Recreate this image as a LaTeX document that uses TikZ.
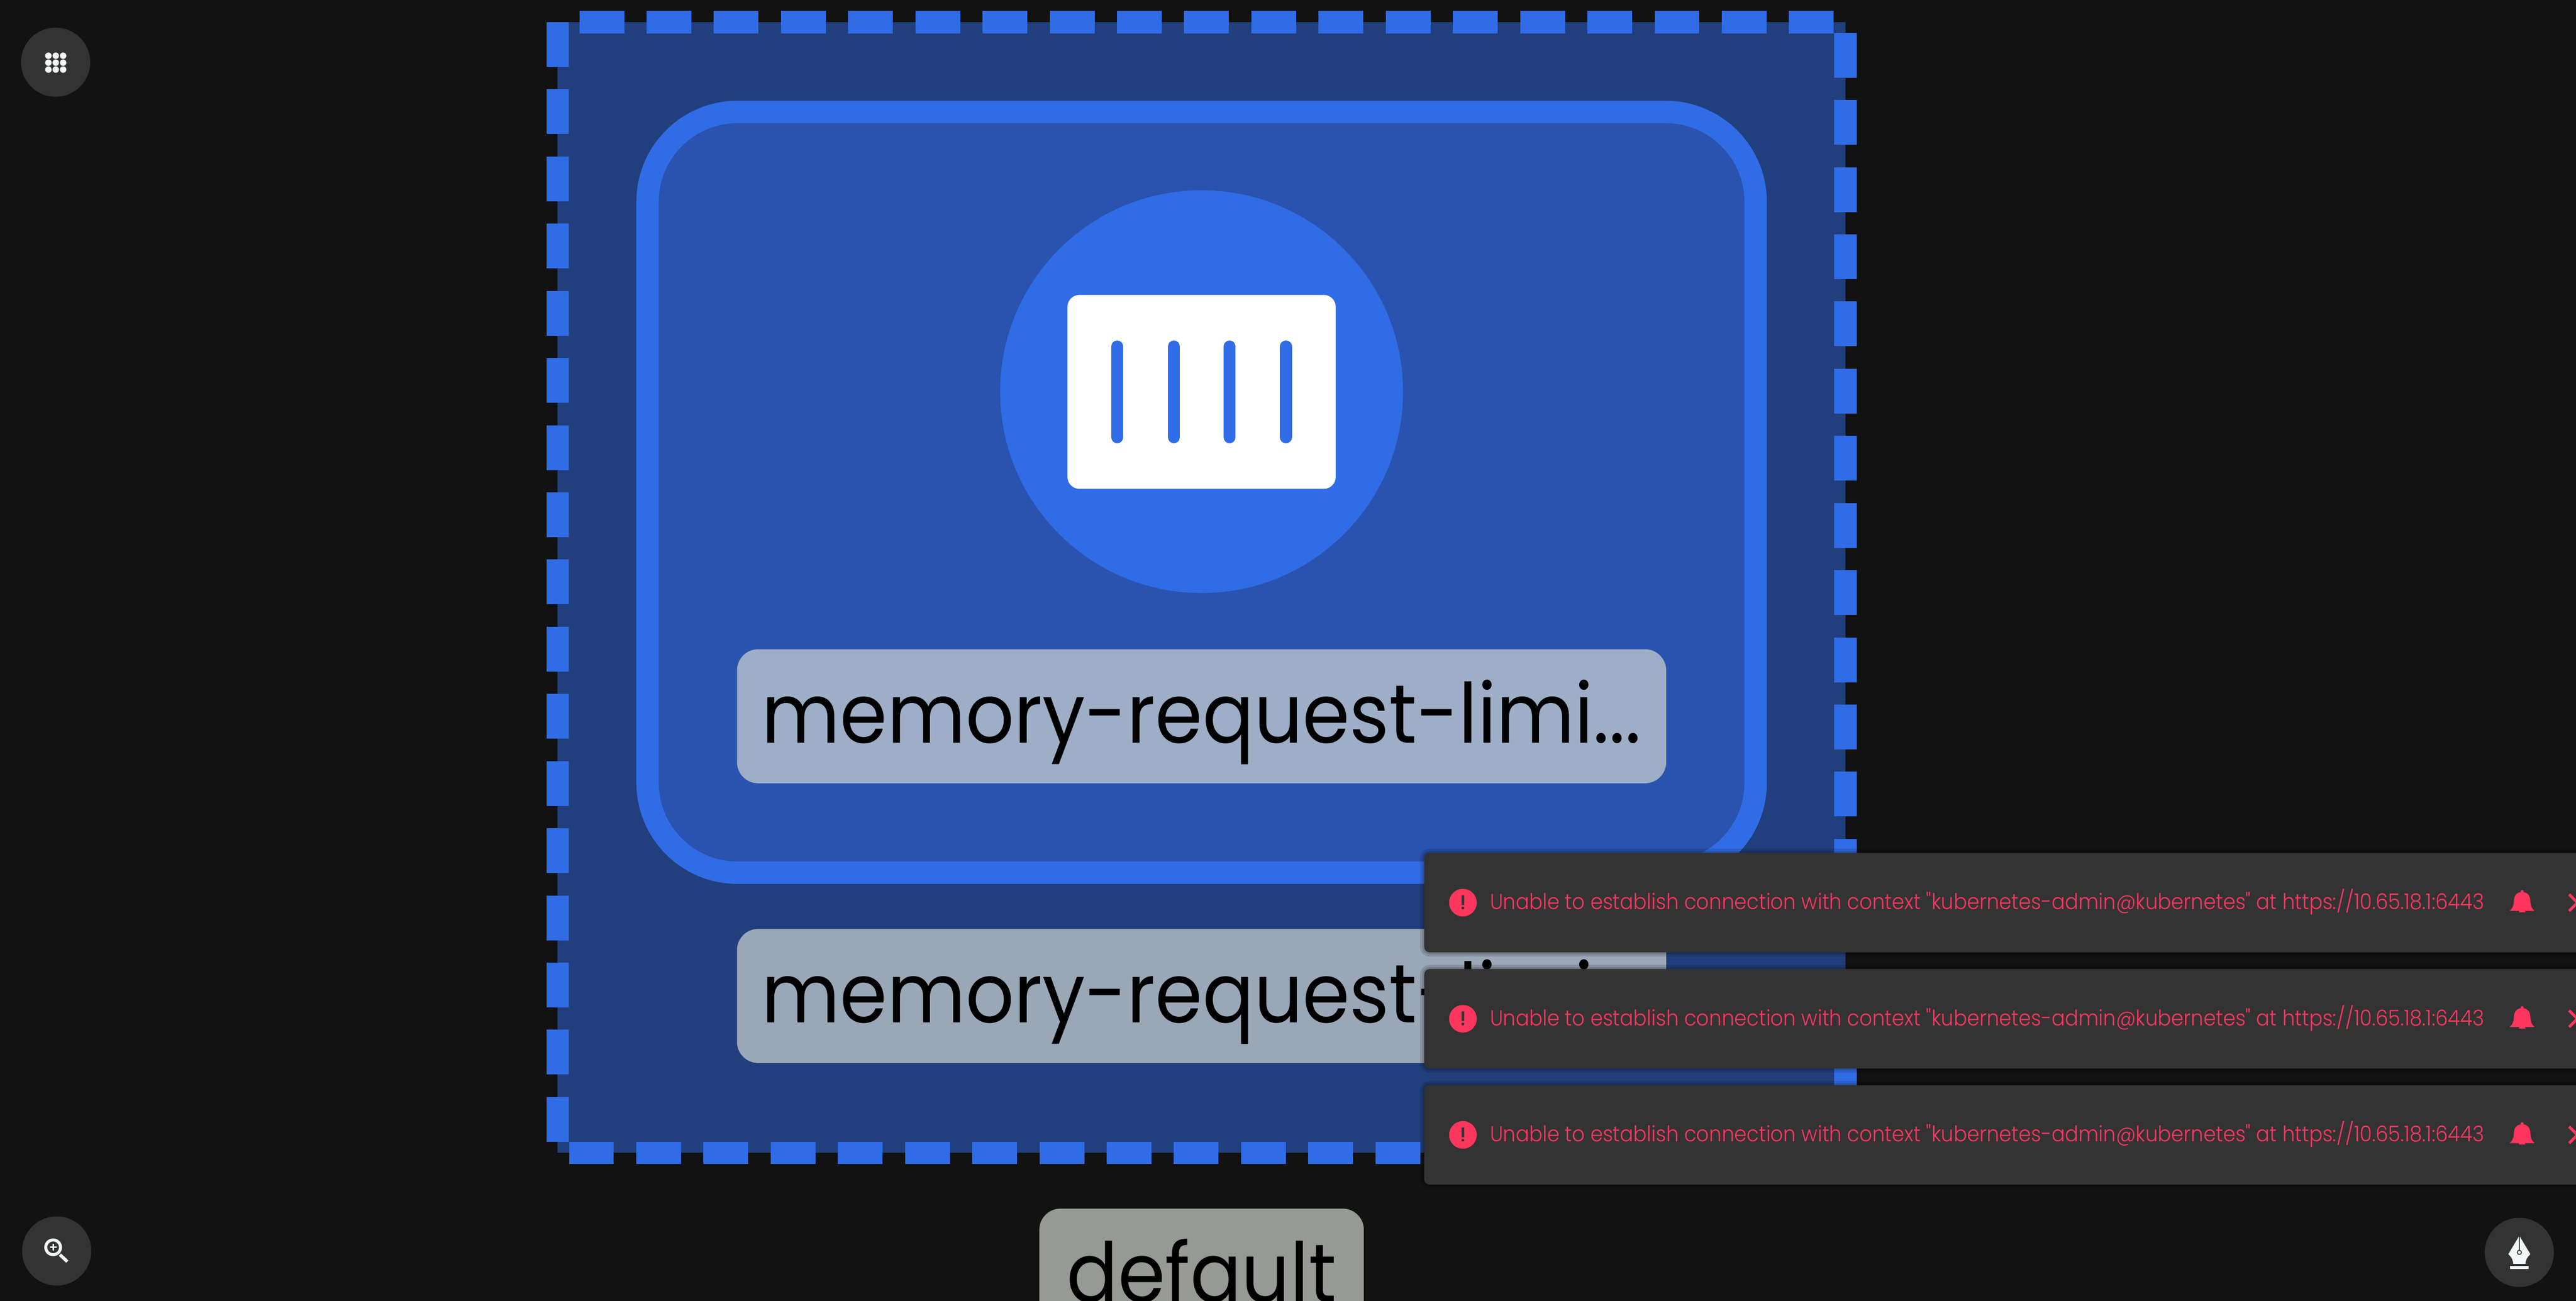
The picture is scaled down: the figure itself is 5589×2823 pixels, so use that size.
\documentclass[tikz,border=0pt]{standalone}
\usepackage{fontspec}
\usetikzlibrary{positioning}
\setmainfont{Poppins}[FakeStretch=0.916]
\newfontfamily\thinfont{Poppins Light}[FakeStretch=0.919]
\definecolor{canvasbg}{HTML}{121212}
\definecolor{nsfill}{HTML}{213F7C}
\definecolor{kubeblue}{HTML}{306CE6}
\definecolor{podfill}{HTML}{2953AE}
\definecolor{podlabel}{HTML}{9EAEC7}
\definecolor{nslabel}{HTML}{9AA7B7}
\definecolor{greylabel}{HTML}{979995}
\definecolor{panel}{HTML}{333333}
\definecolor{alert}{HTML}{FF365E}
\definecolor{iconwhite}{HTML}{F4F7F7}
\newcommand{\errmsg}{Unable to establish connection with context "kubernetes-admin@kubernetes" at https://10.65.18.1:6443}
\tikzset{
	inner sep=0pt,
	outer sep=0pt,
	nsbox/.style={fill=nsfill, minimum width=2794pt, minimum height=2454pt}, % the dashed outer group
	podbox/.style={fill=podfill, draw=kubeblue, line width=48.6pt, rounded corners=195pt, minimum width=2404pt, minimum height=1651pt},
	textlabel/.style={rounded corners=46pt, text=black, text height=203pt, text depth=88pt, font=\fontsize{180}{180}\selectfont},
	roundbtn/.style={circle, fill=panel, minimum size=150pt},
	toastrow/.pic={
		\node[fill=panel, rounded corners=12pt, anchor=north west, minimum width=2600pt, minimum height=216pt,
			preaction={draw=black, opacity=.12, line width=18pt}, preaction={draw=black, opacity=.14, line width=8pt}] (-box) at (0,0) {};
		\node[circle, fill=alert, minimum size=60pt] (-dot) at (84,108) {};
		\fill[panel] (81,92) rectangle (87,113) (81,117) rectangle (87,122);
		\node[anchor=base west, text=alert, font=\thinfont\fontsize{47}{47}\selectfont] (-msg) at (143,123) {\errmsg};
		% bell
		\fill[alert] (2355,126) .. controls (2361,121) and (2364,114) .. (2364,106) .. controls (2364,92) and (2371,85) .. (2382,85)
			.. controls (2393,85) and (2400,92) .. (2400,106) .. controls (2400,114) and (2403,121) .. (2409,126) -- cycle;
		\fill[alert] (2382,84) circle (3.5);
		\fill[alert] (2375,129) -- (2389,129) arc (0:-180:7) -- cycle;
		\draw[alert, line width=6pt] (2484,90) -- (2520,126) (2484,126) -- (2520,90);
	},
}
\begin{document}
\begin{tikzpicture}[x=1pt, y=-1pt]
	\useasboundingbox (0,0) rectangle (5589,2823);
	\clip (0,0) rectangle (5589,2823);
	\fill[canvasbg] (0,0) rectangle (5589,2823);

	\node[nsbox] (ns) at (2607,1275) {};
	\draw[kubeblue, line width=48.6pt, dash pattern=on 97.2pt off 48.6pt]
		(ns.north west) -- (ns.south west) -- (ns.south east) -- (ns.north east) -- cycle;
	\node[podbox] (pod) at (2607,1068.5) {};
	\node[circle, fill=kubeblue, minimum size=874pt] (podicon) at (2607,850) {};
	\node[fill=white, rounded corners=26pt, minimum width=582pt, minimum height=421pt] (crate) at (2607,850.5) {};
	\draw[kubeblue, line width=26pt, line cap=round] (2424,752) -- (2424,949);
	\draw[kubeblue, line width=26pt, line cap=round] (2547,752) -- (2547,949);
	\draw[kubeblue, line width=26pt, line cap=round] (2668,752) -- (2668,949);
	\draw[kubeblue, line width=26pt, line cap=round] (2790,752) -- (2790,949);

	\node[textlabel, fill=podlabel, minimum width=2016pt, anchor=north] (podname) at (2607,1409) {memory-request-limi...};
	\node[textlabel, fill=nslabel, minimum width=2016pt, below=316pt of podname] (nsname) {memory-request-limi...};
	\node[textlabel, fill=greylabel, minimum width=704pt, anchor=north] (nsdefault) at (2607,2623) {default};

	\pic (toast1) at (3090,1851) {toastrow};
	\pic (toast2) at (3090,2103) {toastrow};
	\pic (toast3) at (3090,2355) {toastrow};

	% corner buttons
	\node[roundbtn] (appsbtn) at (120.6,135) {};
	\foreach \dx in {105,121,137}
		\foreach \dy in {121,136,151}
			\fill[iconwhite] (\dx,\dy) circle (7);
	\node[roundbtn] (zoombtn) at (123,2715) {};
	\draw[iconwhite, line width=6.5pt] (115.3,2707) circle (16);
	\draw[iconwhite, line width=7pt] (130,2723) -- (146,2738);
	\draw[iconwhite, line width=3pt] (108,2707) -- (123,2707) (115.5,2699.5) -- (115.5,2714.5);
	\node[roundbtn] (penbtn) at (5466,2718) {};
	\fill[iconwhite] (5466,2682) -- (5490,2722) .. controls (5483,2728) and (5480,2734) .. (5479,2743)
		-- (5453,2743) .. controls (5452,2734) and (5449,2728) .. (5442,2722) -- cycle;
	\fill[iconwhite] (5446,2748) rectangle (5486,2754);
	\draw[panel, line width=2pt] (5466,2682) -- (5466,2713);
	\draw[panel, line width=2pt, fill=iconwhite] (5466,2718) circle (4.5);
\end{tikzpicture}
\end{document}
